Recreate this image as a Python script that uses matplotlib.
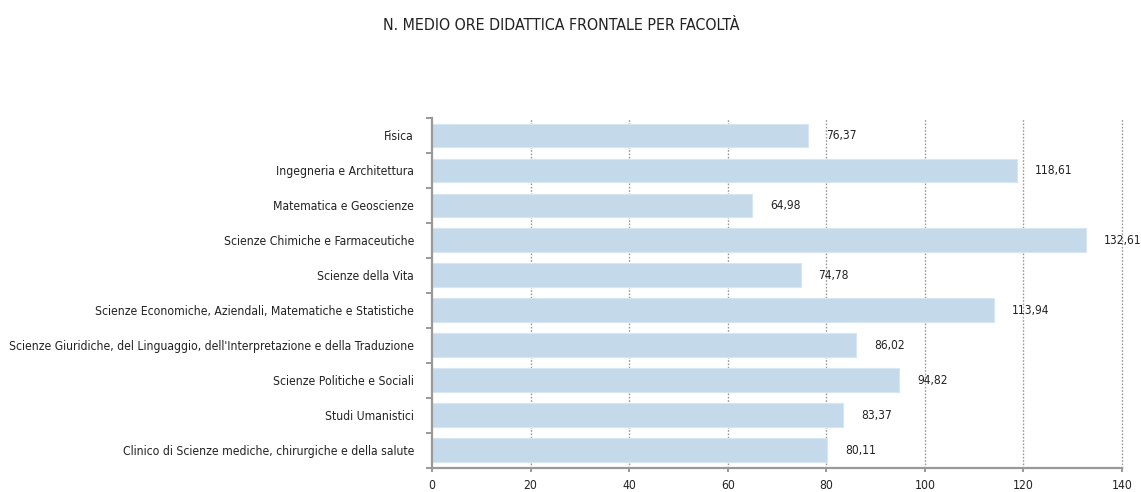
import matplotlib
matplotlib.use("Agg")
import matplotlib.pyplot as plt
from matplotlib import font_manager as fm

categories = [
    "Fisica",
    "Ingegneria e Architettura",
    "Matematica e Geoscienze",
    "Scienze Chimiche e Farmaceutiche",
    "Scienze della Vita",
    "Scienze Economiche, Aziendali, Matematiche e Statistiche",
    "Scienze Giuridiche, del Linguaggio, dell'Interpretazione e della Traduzione",
    "Scienze Politiche e Sociali",
    "Studi Umanistici",
    "Clinico di Scienze mediche, chirurgiche e della salute",
]
values = [76.37, 118.61, 64.98, 132.61, 74.78, 113.94, 86.02, 94.82, 83.37, 80.11]
x_ticks = [0, 20, 40, 60, 80, 100, 120, 140]
title = "N. MEDIO ORE DIDATTICA FRONTALE PER FACOLTÀ"

names = {f.name for f in fm.fontManager.ttflist}
if "Liberation Sans Narrow" in names:
    plt.rcParams["font.family"] = ["Liberation Sans Narrow", "DejaVu Sans"]
    stretch = "normal"
else:
    plt.rcParams["font.family"] = ["DejaVu Sans"]
    stretch = "condensed"
plt.rcParams["font.stretch"] = stretch

txt = "#222222"
fig = plt.figure(figsize=(11.41, 4.92), dpi=100)
ax = fig.add_axes([0.3786, 0.0494, 0.9834 - 0.3786, 0.7602 - 0.0494])

pos = list(range(len(categories)))
ax.barh(pos, values, height=0.68, color="#C4DAEA", edgecolor="#D6E6F2", linewidth=0.8, zorder=2)
for p, v in zip(pos, values):
    ax.annotate(f"{v:.2f}".replace(".", ","), xy=(v, p), xytext=(18, 0),
                textcoords="offset pixels", va="center", ha="left",
                fontsize=8.6, color=txt, zorder=3)

ax.set_xlim(0, 140)
ax.set_ylim(len(categories) - 0.5, -0.5)
ax.set_yticks(pos)
ax.set_yticklabels(categories, fontsize=8.7, color=txt)
ax.set_yticks([p - 0.5 for p in pos] + [len(categories) - 0.5], minor=True)
ax.tick_params(axis="y", which="major", length=0, pad=13)
ax.tick_params(axis="y", which="minor", length=4, width=1.2, color="#888888")
ax.set_xticks(x_ticks)
ax.set_xticklabels([str(t) for t in x_ticks], fontsize=8.7, color=txt)
ax.tick_params(axis="x", which="major", length=3, width=1.2, color="#888888", pad=5)

for t in x_ticks[1:]:
    ax.axvline(t, color="#999999", linestyle=(0, (1.2, 1.2)), linewidth=1.0, zorder=1, clip_on=False)

for s in ["top", "right"]:
    ax.spines[s].set_visible(False)
for s in ["left", "bottom"]:
    ax.spines[s].set_color("#999999")
    ax.spines[s].set_linewidth(1.6)

fig.text(0.492, 0.949, title, ha="center", va="center", fontsize=11.4, color=txt)

fig.savefig("out.png", dpi=100)
